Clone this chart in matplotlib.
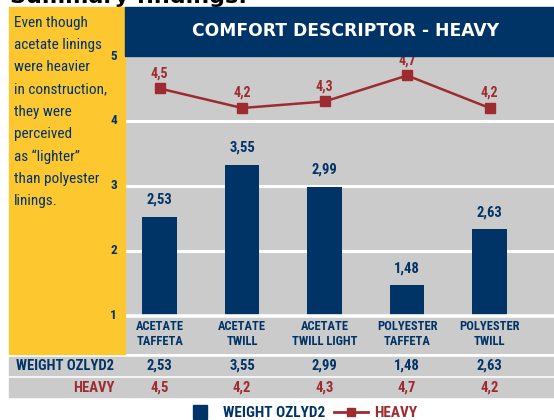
import numpy as np
import matplotlib
matplotlib.use("Agg")
import matplotlib.pyplot as plt
from matplotlib import font_manager as fm
from matplotlib.patches import Rectangle
from matplotlib.lines import Line2D
from matplotlib.transforms import blended_transform_factory

# chart data
categories = ["ACETATE\nTAFFETA", "ACETATE\nTWILL", "ACETATE\nTWILL LIGHT",
              "POLYESTER\nTAFFETA", "POLYESTER\nTWILL"]
weight_bars = [2.53, 3.33, 2.99, 1.48, 2.34]     # bar heights as drawn
weight_text = ["2,53", "3,55", "2,99", "1,48", "2,63"]  # printed values
heavy = [4.5, 4.2, 4.3, 4.7, 4.2]
heavy_text = ["4,5", "4,2", "4,3", "4,7", "4,2"]
yticks = [1, 2, 3, 4, 5]

NAVY = "#003366"
RED = "#9e2b30"
YELLOW = "#fdc82f"
GREY = "#cbcbcb"


# pick a narrow face if one is around
def pick(cands, bold=False):
    for c in cands:
        ws = [f.weight for f in fm.fontManager.ttflist if f.name == c]
        ws = [w for w in ws if isinstance(w, int)]
        if ws and (not bold or max(ws) >= 600):
            return [c, "DejaVu Sans"]
    return ["DejaVu Sans"]


NARROW = pick(["Roboto Condensed", "PT Sans Narrow", "Liberation Sans Narrow"])
NARROW_B = pick(["Roboto Condensed", "Archivo Narrow", "PT Sans Narrow",
                 "Liberation Sans Narrow"], bold=True)

W, H = 554, 420
fig = plt.figure(figsize=(W / 100, H / 100), dpi=100)
fig.patch.set_facecolor("white")


def fx(px):
    return px / W


def fy(py):
    return 1 - py / H


def box(x0, y0, x1, y1, color):
    fig.patches.append(Rectangle((fx(x0), fy(y1)), fx(x1) - fx(x0), fy(y0) - fy(y1),
                                 transform=fig.transFigure, color=color, zorder=0))


# cut-off heading at the top
fig.text(fx(10), fy(3), "Summary findings:", fontsize=16, fontweight="bold",
         color="black", va="baseline", ha="left", zorder=-1)

# background panels
box(9, 7, 125, 354, YELLOW)
box(125, 7, 554, 56, NAVY)
box(9, 357, 554, 375, GREY)
box(9, 378, 554, 397, GREY)

fig.text(fx(346), fy(31), "COMFORT DESCRIPTOR - HEAVY", color="white",
         fontsize=12.3, fontweight="bold", ha="center", va="center")

note = ("Even though\nacetate linings\nwere heavier\nin construction,\nthey were\n"
        "perceived\nas \u201clighter\u201d\nthan polyester\nlinings.")
fig.text(fx(14), fy(16), note, color=NAVY, fontsize=11, family=NARROW,
         ha="left", va="top", linespacing=1.74)

# main plot area
ax = fig.add_axes([fx(125), fy(354), fx(554) - fx(125), fy(56) - fy(354)])
ax.set_facecolor(GREY)
ax.set_xlim(-0.42, 4.78)
ax.set_ylim(0.415, 5)
for s in ax.spines.values():
    s.set_visible(False)
ax.set_xticks([])
ax.set_yticks([])

x = np.arange(len(categories))
for v in yticks[1:-1]:
    ax.axhline(v, color="white", lw=2.2, zorder=1)
ax.axhline(1, color="white", lw=2.6, zorder=3)

ax.bar(x, np.array(weight_bars) - 1, bottom=1, width=0.42, color=NAVY, zorder=2)
for xi, h, t in zip(x, weight_bars, weight_text):
    ax.annotate(t, (xi, h), xytext=(0, 7), textcoords="offset points",
                ha="center", va="bottom", color=NAVY, fontsize=10.5,
                fontweight="bold", family=NARROW_B)

ax.plot(x, heavy, color=RED, lw=1.8, marker="s", markersize=6.5, zorder=4)
for xi, h, t in zip(x, heavy, heavy_text):
    ax.annotate(t, (xi, h), xytext=(0, 6), textcoords="offset points",
                ha="center", va="bottom", color=RED, fontsize=10,
                fontweight="bold", family=NARROW_B)

# category labels under the 1 line
for xi, c in zip(x, categories):
    ax.text(xi, 0.72, c, ha="center", va="center", color=NAVY, fontsize=9,
            fontweight="bold", family=NARROW_B, linespacing=1.2)

# y tick labels sitting on the yellow panel
ytr = blended_transform_factory(fig.transFigure, ax.transData)
for v in yticks:
    fig.text(fx(117), v, str(v), transform=ytr, ha="right", va="center",
             color=NAVY, fontsize=9.5, fontweight="bold", family=NARROW_B)

# table rows under the chart
ttr = blended_transform_factory(ax.transData, fig.transFigure)
fig.text(fx(114), fy(366), "WEIGHT OZLYD2", ha="right", va="center",
         color=NAVY, fontsize=10.5, fontweight="bold", family=NARROW_B)
fig.text(fx(114), fy(387.5), "HEAVY", ha="right", va="center",
         color=RED, fontsize=10.5, fontweight="bold", family=NARROW_B)
for xi, t1, t2 in zip(x, weight_text, heavy_text):
    fig.text(xi, fy(366), t1, transform=ttr, ha="center", va="center",
             color=NAVY, fontsize=10.5, fontweight="bold", family=NARROW_B)
    fig.text(xi, fy(387.5), t2, transform=ttr, ha="center", va="center",
             color=RED, fontsize=10.5, fontweight="bold", family=NARROW_B)

# legend at the bottom
handles = [Line2D([0], [0], color=NAVY, ls="none", marker="s", markersize=9.5),
           Line2D([0], [0], color=RED, lw=2, marker="s", markersize=6)]
leg = fig.legend(handles, ["WEIGHT OZLYD2", "HEAVY"], loc="center",
                 bbox_to_anchor=(fx(300), fy(413)), ncol=2, frameon=False,
                 prop={"family": NARROW_B, "weight": "bold", "size": 11},
                 handlelength=2.2, columnspacing=0.6, handletextpad=0.4)
for txt, col in zip(leg.get_texts(), [NAVY, RED]):
    txt.set_color(col)

fig.savefig("out.png", dpi=100, facecolor="white")
